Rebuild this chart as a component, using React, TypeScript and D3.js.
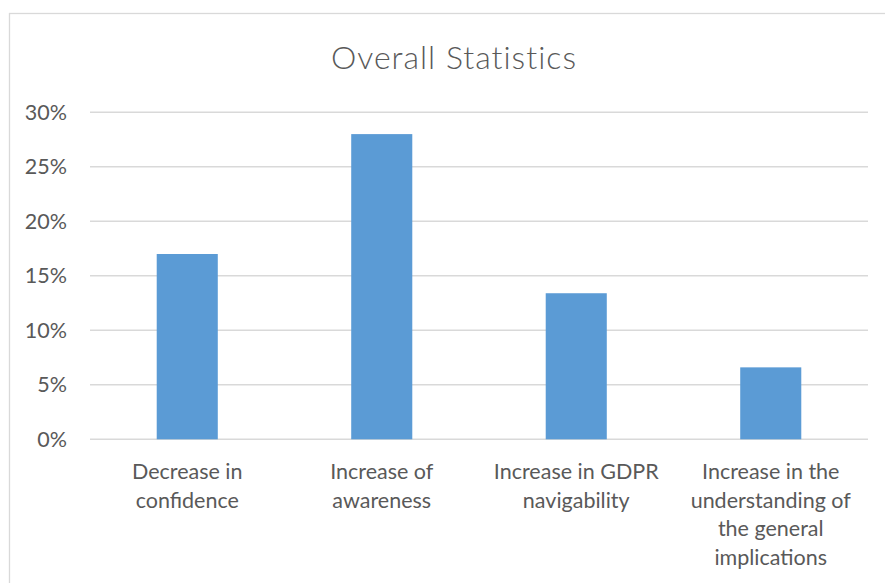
import React from "react";
import * as d3 from "d3";

// Chart content
const title = "Overall Statistics";
const categories = [
  "Decrease in confidence",
  "Increase of awareness",
  "Increase in GDPR navigability",
  "Increase in the understanding of the general implications",
];
// Wrapped lines for each category label on the x axis
const categoryLines = [
  ["Decrease in", "confidence"],
  ["Increase of", "awareness"],
  ["Increase in GDPR", "navigability"],
  ["Increase in the", "understanding of", "the general", "implications"],
];
const values = [0.17, 0.28, 0.134, 0.066];
const yTicks = [0, 0.05, 0.1, 0.15, 0.2, 0.25, 0.3];

const W = 885;
const H = 583;
const plot = { left: 90, right: 868, top: 112.3, bottom: 439.3 };

const FONT = "Lato, 'Open Sans', sans-serif";
const TEXT = "#595959";
const GRID = "#D9D9D9";
const BAR = "#5B9BD5";

export default function App() {
  const x = d3
    .scaleBand<string>()
    .domain(categories)
    .range([plot.left, plot.right])
    .paddingInner(0.686)
    .paddingOuter(0.343);
  const y = d3.scaleLinear().domain([0, 0.3]).range([plot.bottom, plot.top]);
  const fmt = d3.format(".0%");

  return (
    <svg
      width={W}
      height={H}
      style={{ position: "absolute", left: 0, top: 0, background: "#fff" }}
    >
      <rect x={9.5} y={13.5} width={W + 20} height={H + 20} fill="#fff" stroke={GRID} strokeWidth={1.3} />
      <text
        x={454}
        y={68.5}
        textAnchor="middle"
        fontFamily={FONT}
        fontWeight={300}
        fontSize={32}
        letterSpacing={1}
        fill={TEXT}
      >
        {title}
      </text>

      {yTicks.map((t) => (
        <g key={t}>
          <line x1={plot.left} x2={plot.right} y1={y(t)} y2={y(t)} stroke={GRID} strokeWidth={1.4} />
          <text
            x={67}
            y={y(t)}
            dy="0.35em"
            textAnchor="end"
            fontFamily={FONT}
            fontSize={21.5}
            fill={TEXT}
          >
            {fmt(t)}
          </text>
        </g>
      ))}

      {categories.map((c, i) => (
        <rect
          key={c}
          x={x(c)!}
          y={y(values[i])}
          width={x.bandwidth()}
          height={y(0) - y(values[i])}
          fill={BAR}
        />
      ))}

      {categories.map((c, i) => (
        <text
          key={c}
          x={x(c)! + x.bandwidth() / 2}
          textAnchor="middle"
          fontFamily={FONT}
          fontSize={21.5}
          fill={TEXT}
        >
          {categoryLines[i].map((line, j) => (
            <tspan key={j} x={x(c)! + x.bandwidth() / 2} y={479.3 + j * 28.4}>
              {line}
            </tspan>
          ))}
        </text>
      ))}
    </svg>
  );
}
